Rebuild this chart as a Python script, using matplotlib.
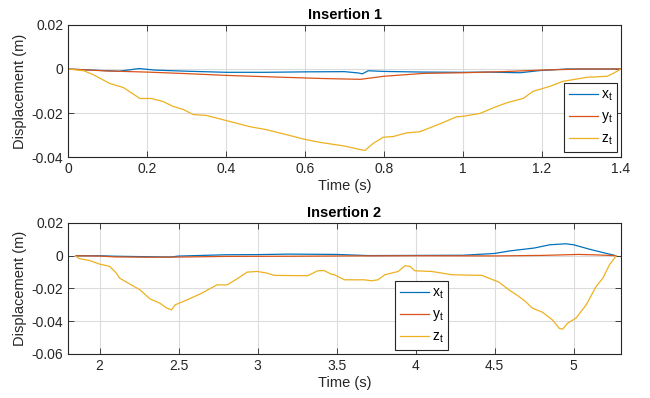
import matplotlib
matplotlib.use("Agg")
import matplotlib.pyplot as plt

plt.rcParams['font.family'] = ['Liberation Sans', 'DejaVu Sans']

BLUE = '#0072BD'
ORANGE = '#D95319'
YELLOW = '#EDB120'

# ---------- Insertion 1 ----------
t1_x = [0, 0.06, 0.13, 0.18, 0.22, 0.3, 0.4, 0.5, 0.6, 0.7, 0.735, 0.745, 0.76, 0.8, 0.9, 1.0, 1.06, 1.145, 1.195, 1.263, 1.3, 1.4]
x1 = [0, -0.0005, -0.001, 0.0002, -0.0005, -0.001, -0.0015, -0.0015, -0.0013, -0.0012, -0.0018, -0.0022, -0.0008, -0.0011, -0.0014, -0.0015, -0.0014, -0.0017, -0.0007, 0, 0, 0]
t1_y = [0, 0.1, 0.2, 0.3, 0.4, 0.5, 0.64, 0.74, 0.8, 0.9, 1.0, 1.1, 1.2, 1.3, 1.4]
y1 = [0, -0.0009, -0.0014, -0.0021, -0.0029, -0.0035, -0.0043, -0.0047, -0.0033, -0.002, -0.0017, -0.0012, -0.0005, 0, 0]
t1_z = [0, 0.04, 0.063, 0.106, 0.14, 0.182, 0.212, 0.241, 0.266, 0.292, 0.317, 0.35, 0.4, 0.46, 0.5, 0.55,
        0.6, 0.64, 0.7, 0.739, 0.752, 0.772, 0.798, 0.823, 0.858, 0.891, 0.942, 0.984, 1.0, 1.043, 1.077,
        1.11, 1.152, 1.178, 1.22, 1.253, 1.28, 1.313, 1.365, 1.38, 1.4]
z1 = [0, -0.0008, -0.0025, -0.0066, -0.0084, -0.0134, -0.0134, -0.0148, -0.017, -0.0184, -0.0207, -0.0211,
      -0.0234, -0.0262, -0.0275, -0.0297, -0.032, -0.0334, -0.035, -0.0366, -0.037, -0.0339, -0.031, -0.0307,
      -0.029, -0.0285, -0.0249, -0.0217, -0.0215, -0.0202, -0.0176, -0.0154, -0.0134, -0.0101, -0.0079,
      -0.0056, -0.0048, -0.0038, -0.0033, -0.002, 0]

# ---------- Insertion 2 ----------
t2_x = [1.851, 2.0, 2.1, 2.3, 2.45, 2.5, 2.8, 3.0, 3.2, 3.5, 3.7, 4.0, 4.3, 4.5, 4.6, 4.75, 4.85, 4.95, 5.0, 5.1, 5.2, 5.27]
x2 = [0, 0, -0.0003, -0.0006, -0.0008, -0.0002, 0.0006, 0.0007, 0.001, 0.0008, 0.0001, 0.0002, 0.0003, 0.0014, 0.003, 0.0047, 0.0067, 0.0073, 0.0067, 0.004, 0.0016, 0]
t2_y = [1.851, 2.0, 2.1, 2.3, 2.5, 2.8, 3.2, 3.6, 4.0, 4.5, 4.8, 5.03, 5.15, 5.27]
y2 = [0, -0.0002, -0.0007, -0.0009, -0.0008, -0.0004, -0.0003, -0.0001, 0.0000, -0.0001, 0.0002, 0.0008, 0.0005, 0]
t2_z = [1.851, 1.873, 1.936, 2.0, 2.064, 2.106, 2.127, 2.17, 2.255, 2.318, 2.382, 2.425, 2.456, 2.478, 2.552,
        2.637, 2.743, 2.807, 2.87, 2.934, 2.998, 3.06, 3.104, 3.317, 3.38, 3.42, 3.465, 3.486, 3.55, 3.677,
        3.72, 3.762, 3.805, 3.89, 3.932, 3.964, 3.996, 4.102, 4.23, 4.42, 4.463, 4.527, 4.59, 4.654, 4.696,
        4.739, 4.803, 4.866, 4.909, 4.93, 4.962, 5.015, 5.08, 5.142, 5.185, 5.227, 5.27]
z2 = [-0.0004, -0.0018, -0.0029, -0.0051, -0.0065, -0.0106, -0.0137, -0.0161, -0.0208, -0.0263, -0.029, -0.032,
      -0.033, -0.030, -0.027, -0.0233, -0.0178, -0.0178, -0.0141, -0.010, -0.0096, -0.0106, -0.012, -0.0122,
      -0.0092, -0.009, -0.0112, -0.0116, -0.0147, -0.0147, -0.0153, -0.0147, -0.0116, -0.0096, -0.0061,
      -0.0065, -0.0092, -0.0096, -0.0116, -0.012, -0.0137, -0.0161, -0.0208, -0.0249, -0.028, -0.032,
      -0.0345, -0.0392, -0.0443, -0.0449, -0.0412, -0.0381, -0.030, -0.0188, -0.0137, -0.0055, 0]

labels = [r'$\mathregular{x_t}$', r'$\mathregular{y_t}$', r'$\mathregular{z_t}$']

fig = plt.figure(figsize=(6.5, 3.98), dpi=100)
ax1 = fig.add_axes([0.1046, 0.6055, 0.8508, 0.3317])
ax2 = fig.add_axes([0.1046, 0.1106, 0.8508, 0.3291])

SPINE = '#262626'

def style(ax):
    ax.grid(True, color='#dcdcdc', linewidth=0.8)
    ax.set_axisbelow(True)
    for s in ax.spines.values():
        s.set_color(SPINE)
        s.set_linewidth(0.8)
    ax.tick_params(direction='in', top=True, right=True, length=4, width=0.6,
                   color=SPINE, labelsize=10, labelcolor='#262626', pad=3.5)
    ax.set_xlabel('Time (s)', fontsize=10.5, color='#262626', labelpad=2)
    ax.set_ylabel('Displacement (m)', fontsize=10.5, color='#262626', labelpad=3)

lw = 0.9
ax1.plot(t1_x, x1, color=BLUE, lw=lw, label=labels[0])
ax1.plot(t1_y, y1, color=ORANGE, lw=lw, label=labels[1])
ax1.plot(t1_z, z1, color=YELLOW, lw=lw, label=labels[2])
ax1.set_xlim(0, 1.4)
ax1.set_ylim(-0.04, 0.02)
ax1.set_xticks([0, 0.2, 0.4, 0.6, 0.8, 1.0, 1.2, 1.4])
ax1.set_xticklabels(['0', '0.2', '0.4', '0.6', '0.8', '1', '1.2', '1.4'])
ax1.set_yticks([-0.04, -0.02, 0, 0.02])
ax1.set_yticklabels(['-0.04', '-0.02', '0', '0.02'])
ax1.set_title('Insertion 1', fontsize=10.5, fontweight='bold', pad=4)
style(ax1)

ax2.plot(t2_x, x2, color=BLUE, lw=lw, label=labels[0])
ax2.plot(t2_y, y2, color=ORANGE, lw=lw, label=labels[1])
ax2.plot(t2_z, z2, color=YELLOW, lw=lw, label=labels[2])
ax2.set_xlim(1.8, 5.3)
ax2.set_ylim(-0.06, 0.02)
ax2.set_xticks([2, 2.5, 3, 3.5, 4, 4.5, 5])
ax2.set_xticklabels(['2', '2.5', '3', '3.5', '4', '4.5', '5'])
ax2.set_yticks([-0.06, -0.04, -0.02, 0, 0.02])
ax2.set_yticklabels(['-0.06', '-0.04', '-0.02', '0', '0.02'])
ax2.set_title('Insertion 2', fontsize=10.5, fontweight='bold', pad=4)
style(ax2)

def legend(ax, loc, anchor):
    leg = ax.legend(loc=loc, bbox_to_anchor=anchor, fontsize=10, frameon=True, fancybox=False,
                    handlelength=2.1, handletextpad=0.2, borderpad=0.35, labelspacing=0.45,
                    borderaxespad=0.0)
    leg.get_frame().set_edgecolor('#262626')
    leg.get_frame().set_linewidth(0.8)
    leg.get_frame().set_alpha(1)
    return leg

legend(ax1, 'lower right', (0.993, 0.038))
legend(ax2, 'lower left', (0.591, 0.031))

fig.savefig('out.png', dpi=100)
